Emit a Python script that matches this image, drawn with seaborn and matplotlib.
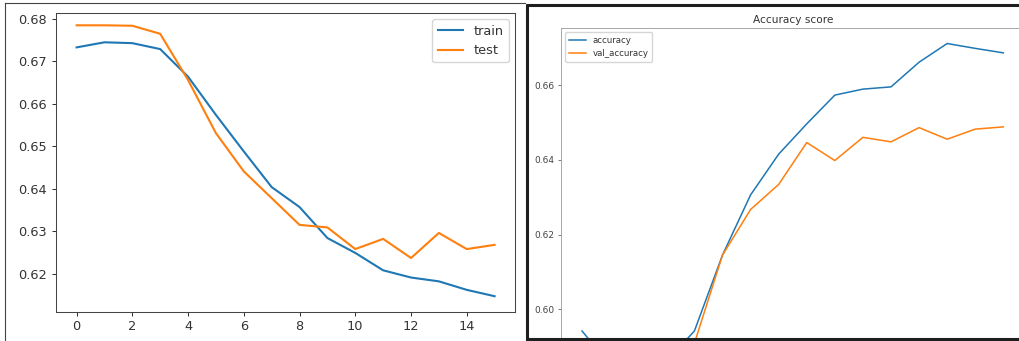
import matplotlib
matplotlib.use("Agg")
import matplotlib.pyplot as plt
import seaborn as sns
import pandas as pd
from matplotlib.lines import Line2D

# ---------------- data ----------------
epochs = list(range(16))
train = [0.6733, 0.6745, 0.6743, 0.6729, 0.6664, 0.6574, 0.6488, 0.6404,
         0.6357, 0.6284, 0.6249, 0.6208, 0.6191, 0.6182, 0.6162, 0.6147]
test = [0.6785, 0.6785, 0.6784, 0.6765, 0.6656, 0.6531, 0.6441, 0.6378,
        0.6315, 0.6309, 0.6258, 0.6282, 0.6237, 0.6296, 0.6258, 0.6268]
accuracy = [0.5942, 0.5850, 0.5845, 0.5860, 0.5942, 0.6145, 0.6306, 0.6415,
            0.6496, 0.6573, 0.6589, 0.6595, 0.6661, 0.6711, 0.6698, 0.6686]
val_accuracy = [0.5870, 0.5880, 0.5880, 0.5890, 0.5909, 0.6145, 0.6267, 0.6334,
                0.6446, 0.6398, 0.6460, 0.6448, 0.6486, 0.6455, 0.6482, 0.6488]
left_xticks = [0, 2, 4, 6, 8, 10, 12, 14]
left_yticks = [0.62, 0.63, 0.64, 0.65, 0.66, 0.67, 0.68]
right_yticks = [0.60, 0.62, 0.64, 0.66]
left_labels = ["train", "test"]
right_labels = ["accuracy", "val_accuracy"]
right_title = "Accuracy score"

BLUE = "#1f77b4"
ORANGE = "#ff7f0e"

W, H = 1020, 341
fig = plt.figure(figsize=(W / 100, H / 100), dpi=100)
fig.patch.set_facecolor("white")


def fx(px):
    return px / W


def fy(py):
    return 1 - py / H


# ---------------- left panel ----------------
df_left = pd.DataFrame({"epoch": epochs, left_labels[0]: train, left_labels[1]: test})
ax1 = fig.add_axes([fx(55.7), fy(311.5), fx(515.5 - 55.7), (311.5 - 13) / H])
sns.lineplot(data=df_left, x="epoch", y=left_labels[0], ax=ax1, color=BLUE,
             lw=1.5, label=left_labels[0])
sns.lineplot(data=df_left, x="epoch", y=left_labels[1], ax=ax1, color=ORANGE,
             lw=1.5, label=left_labels[1])
ax1.set_xticks(left_xticks)
ax1.set_yticks(left_yticks)
ax1.set_yticklabels([f"{v:.2f}" for v in left_yticks])
ax1.set_xlim(-0.75, 15.75)
ax1.set_ylim(0.6111, 0.6814)
ax1.set_xlabel("")
ax1.set_ylabel("")
ax1.tick_params(labelsize=9.3, colors="#333333", length=3.2, width=0.75, pad=3.2)
for s in ax1.spines.values():
    s.set_color("#444444")
    s.set_linewidth(0.75)
ax1.legend(loc="upper right", fontsize=9.3, borderaxespad=0.5,
           handlelength=2.0, labelcolor="#333333")

# ---------------- right panel (cropped at bottom/right in the screenshot) ----
df_right = pd.DataFrame({"epoch": epochs, right_labels[0]: accuracy,
                         right_labels[1]: val_accuracy})
ax2 = fig.add_axes([fx(561), fy(360), fx(1024.4 - 561), (360 - 28) / H])
sns.lineplot(data=df_right, x="epoch", y=right_labels[0], ax=ax2, color=BLUE,
             lw=1.1, label=right_labels[0])
sns.lineplot(data=df_right, x="epoch", y=right_labels[1], ax=ax2, color=ORANGE,
             lw=1.1, label=right_labels[1])
ax2.set_yticks(right_yticks)
ax2.set_yticklabels([f"{v:.2f}" for v in right_yticks])
ax2.set_xlim(-0.75, 15.75)
ax2.set_ylim(0.58644, 0.67525)
ax2.set_xlabel("")
ax2.set_ylabel("")
ax2.tick_params(labelsize=6.5, colors="#444444", length=2.3, width=0.5, pad=2.3)
ax2.tick_params(axis="x", bottom=False, labelbottom=False)
for s in ax2.spines.values():
    s.set_color("#999999")
    s.set_linewidth(0.6)
ax2.set_title(right_title, fontsize=7.6, color="#333333", pad=3.5)
ax2.legend(loc="upper left", fontsize=6.2, borderaxespad=0.5,
           handlelength=2.0, labelcolor="#333333")

# ---------------- screenshot frames ----------------
fig.add_artist(Line2D([fx(5), fx(5)], [fy(2.7), 0], transform=fig.transFigure,
                      color="#444444", lw=0.8))
fig.add_artist(Line2D([fx(5), fx(525)], [fy(2.7), fy(2.7)], transform=fig.transFigure,
                      color="#444444", lw=0.8))
fig.add_artist(Line2D([fx(527.2), fx(527.2)], [fy(3.5), fy(340.8)],
                      transform=fig.transFigure, color="#1e1e1e", lw=2.2,
                      solid_capstyle="butt"))
fig.add_artist(Line2D([fx(526), fx(1020)], [fy(5), fy(5)], transform=fig.transFigure,
                      color="#1e1e1e", lw=2.2, solid_capstyle="butt"))
fig.add_artist(Line2D([fx(526), fx(1020)], [fy(339.3), fy(339.3)],
                      transform=fig.transFigure, color="#1e1e1e", lw=2.2,
                      solid_capstyle="butt"))

fig.savefig("out.png", dpi=100)
